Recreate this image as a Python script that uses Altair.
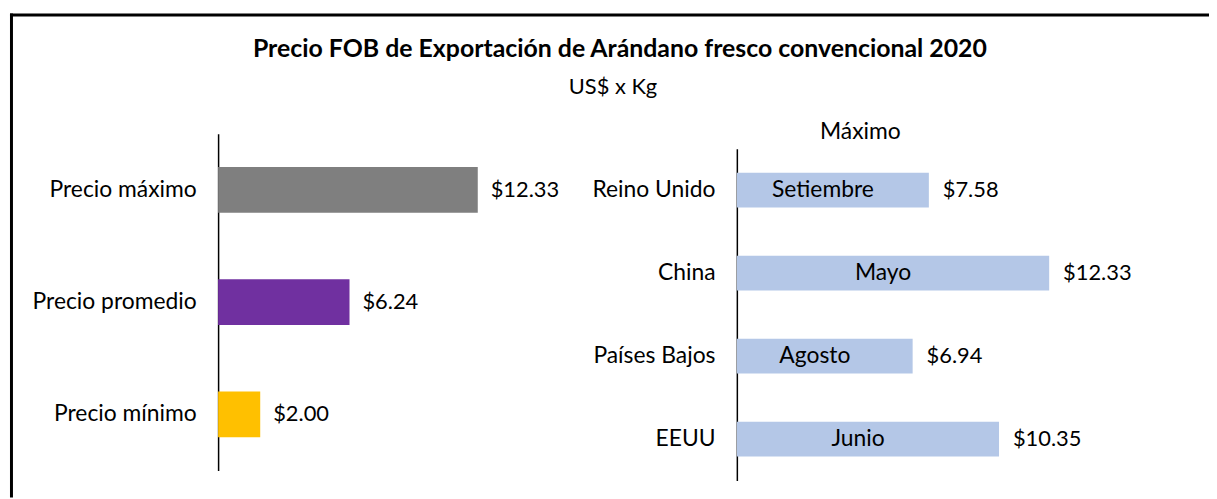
import altair as alt
import pandas as pd

# ---- data ----
categorias = ["Precio máximo", "Precio promedio", "Precio mínimo"]
precios = [12.33, 6.24, 2.00]

paises = ["Reino Unido", "China", "Países Bajos", "EEUU"]
precio_max_pais = [7.58, 12.33, 6.94, 10.35]
meses = ["Setiembre", "Mayo", "Agosto", "Junio"]

titulo = "Precio FOB de Exportación de Arándano fresco convencional 2020"
subtitulo = "US$ x Kg"
titulo_panel = "Máximo"

# ---- styles ----
paleta = ["#7F7F7F", "#7030A0", "#FFC000"]
azul = "#B4C7E7"
FONT = "Lato"
FS = 23
FSV = 22
W, H = 1209, 491

df_res = pd.DataFrame({"categoria": categorias, "valor": precios})
df_pais = pd.DataFrame({"pais": paises, "valor": precio_max_pais, "mes": meses})
one = pd.DataFrame({"k": [0]})

# left panel scales
xl = alt.Scale(domain=[0, 14], range=[211.5, 211.5 + 21.2 * 14])
yl = alt.Scale(domain=categorias, range=[125, 464], paddingInner=0.593, paddingOuter=0.2965)

# right panel scales
xr = alt.Scale(domain=[0, 14], range=[733.7, 733.7 + 25.5 * 14])
yr = alt.Scale(domain=paises, range=[140, 474], paddingInner=0.581, paddingOuter=0.2905)

axis_common = dict(
    orient="left", ticks=False, grid=False, title=None,
    labelFont=FONT, labelFontSize=FS, labelColor="#000000", labelPadding=22,
    domainColor="#000000", domainWidth=1.5, labelLimit=300,
)

base_l = alt.Chart(df_res)
bars_l = base_l.mark_bar().encode(
    x=alt.X("valor:Q", scale=xl, axis=None),
    y=alt.Y("categoria:N", scale=yl, sort=categorias,
            axis=alt.Axis(offset=-211.5, **axis_common)),
    color=alt.Color("categoria:N", scale=alt.Scale(domain=categorias, range=paleta), legend=None),
)
lab_l = base_l.mark_text(align="left", baseline="middle", dx=13, font=FONT,
                         fontSize=FSV, color="#000000").encode(
    x=alt.X("valor:Q", scale=xl, axis=None),
    y=alt.Y("categoria:N", scale=yl, sort=categorias),
    text=alt.Text("valor:Q", format="$.2f"),
)
left = alt.layer(bars_l, lab_l)

base_r = alt.Chart(df_pais).transform_calculate(mitad="datum.valor / 2")
bars_r = base_r.mark_bar(color=azul).encode(
    x=alt.X("valor:Q", scale=xr, axis=None),
    y=alt.Y("pais:N", scale=yr, sort=paises,
            axis=alt.Axis(offset=-733.7, **axis_common)),
)
lab_r = base_r.mark_text(align="left", baseline="middle", dx=14, font=FONT,
                         fontSize=FSV, color="#000000").encode(
    x=alt.X("valor:Q", scale=xr, axis=None),
    y=alt.Y("pais:N", scale=yr, sort=paises),
    text=alt.Text("valor:Q", format="$.2f"),
)
mes_r = base_r.mark_text(align="center", baseline="middle", dx=-10, font=FONT,
                         fontSize=FS, color="#000000").encode(
    x=alt.X("mitad:Q", scale=xr, axis=None),
    y=alt.Y("pais:N", scale=yr, sort=paises),
    text="mes:N",
)
right = alt.layer(bars_r, lab_r, mes_r)

# frame (top and left border of the chart area)
frame_top = alt.Chart(one).mark_rule(color="#000000", strokeWidth=3).encode(
    x=alt.value(2), x2=alt.value(W), y=alt.value(5.5))
frame_left = alt.Chart(one).mark_rule(color="#000000", strokeWidth=3).encode(
    x=alt.value(3.5), y=alt.value(4), y2=alt.value(H))

t_title = alt.Chart(one).mark_text(font=FONT, fontSize=25, fontWeight="bold",
                                   color="#000000", align="center", baseline="middle").encode(
    x=alt.value(616), y=alt.value(40), text=alt.value(titulo))
t_sub = alt.Chart(one).mark_text(font=FONT, fontSize=FSV, color="#000000",
                                 align="center", baseline="middle").encode(
    x=alt.value(609), y=alt.value(78), text=alt.value(subtitulo))
t_panel = alt.Chart(one).mark_text(font=FONT, fontSize=FS, color="#000000",
                                   align="center", baseline="middle").encode(
    x=alt.value(858), y=alt.value(123), text=alt.value(titulo_panel))

chart = alt.layer(
    frame_top, frame_left, t_title, t_sub, t_panel, left, right
).resolve_scale(
    x="independent", y="independent", color="independent"
).resolve_axis(
    x="independent", y="independent"
).properties(
    width=W, height=H, autosize=alt.AutoSizeParams(type="none"), padding=0,
    background="white",
).configure_view(strokeWidth=0)

chart.save("out.html", embed_options={"renderer": "svg", "actions": False})
